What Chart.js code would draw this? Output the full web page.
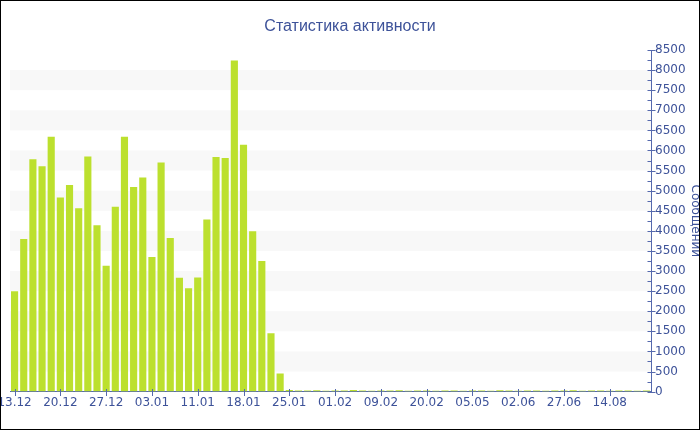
<!DOCTYPE html>
<html>
<head>
<meta charset="utf-8">
<script src="https://cdn.jsdelivr.net/npm/chart.js@4"></script>
<style>
    body { margin: 0; background: #fff; }
    #wrap { width: 700px; height: 430px; box-sizing: border-box; border: 1px solid #000; }
    canvas { display: block; }
</style>
</head>
<body>
<div id="wrap"><canvas id="activityChart" width="698" height="428"></canvas></div>
<script>
const days = [
    '13.12', '14.12', '15.12', '17.12', '18.12', '20.12', '21.12', '22.12', '24.12', '25.12',
    '27.12', '28.12', '29.12', '31.12', '01.01', '03.01', '04.01', '06.01', '07.01', '09.01',
    '11.01', '12.01', '14.01', '15.01', '17.01', '18.01', '20.01', '21.01', '22.01', '24.01',
    '25.01', '26.01', '28.01', '29.01', '31.01', '01.02', '03.02', '05.02', '06.02', '08.02',
    '09.02', '11.02', '13.02', '15.02', '18.02', '20.02', '05.03', '19.03', '02.04', '18.04',
    '05.05', '12.05', '17.05', '21.05', '27.05', '02.06', '07.06', '13.06', '17.06', '22.06',
    '27.06', '05.07', '14.07', '22.07', '03.08', '14.08', '20.08', '29.08', '05.09', '12.09'
];

const messages = [
    2500, 3800, 5780, 5610, 6340, 4830, 5140, 4560, 5850, 4140,
    3130, 4600, 6340, 5090, 5330, 3350, 5700, 3820, 2830, 2570,
    2840, 4280, 5840, 5810, 8240, 6140, 3990, 3250, 1450, 450,
    40, 30, 25, 35, 20, 30, 25, 40, 30, 20,
    25, 30, 35, 20, 25, 30, 20, 25, 30, 20,
    25, 30, 20, 35, 25, 20, 30, 25, 20, 30,
    25, 35, 20, 25, 30, 20, 25, 30, 20, 25
];

const yMax = 8500;
const yStep = 250;
const labelEvery = 5;

const textColor = '#3d5299';
const axisColor = '#5569ad';
const barColor = '#bce02e';
const bandColor = '#f8f8f8';

// light bands between 500-1000, 1500-2000 ...
const bandsPlugin = {
    id: 'bands',
    beforeDatasetsDraw(chart) {
        const { ctx, chartArea, scales } = chart;
        ctx.save();
        ctx.fillStyle = bandColor;
        for (let v = 500; v < yMax; v += 1000) {
            const top = scales.y.getPixelForValue(v + 500);
            const bottom = scales.y.getPixelForValue(v);
            ctx.fillRect(chartArea.left, top, chartArea.right - chartArea.left, bottom - top);
        }
        ctx.restore();
    }
};

// tick marks that cross the axis lines
const crossTicksPlugin = {
    id: 'crossTicks',
    afterDraw(chart) {
        const { ctx, chartArea, scales } = chart;
        ctx.save();
        ctx.strokeStyle = axisColor;
        ctx.lineWidth = 1;
        ctx.beginPath();
        scales.y.ticks.forEach(t => {
            const y = Math.round(scales.y.getPixelForValue(t.value)) + 0.5;
            const major = t.value % 500 === 0;
            const x = Math.round(chartArea.right) + 0.5;
            ctx.moveTo(x - 4, y);
            ctx.lineTo(major ? x + 4 : x, y);
        });
        scales.x.ticks.forEach((t, i) => {
            if (i % labelEvery !== 0) return;
            const x = Math.round(scales.x.getPixelForValue(i)) + 0.5;
            const y = Math.round(chartArea.bottom);
            ctx.moveTo(x, y - 3);
            ctx.lineTo(x, y + 4);
        });
        ctx.stroke();
        ctx.restore();
    }
};

const config = {
    type: 'bar',
    data: {
        labels: days,
        datasets: [{
            label: 'Сообщений',
            data: messages,
            backgroundColor: barColor,
            borderWidth: 0,
            categoryPercentage: 1,
            barPercentage: 0.78
        }]
    },
    options: {
        responsive: false,
        animation: false,
        layout: {
            padding: { left: 9, right: 9, top: 0, bottom: 15 }
        },
        plugins: {
            legend: { display: false },
            tooltip: { enabled: false },
            title: {
                display: true,
                text: 'Статистика активности',
                color: textColor,
                font: { family: 'Liberation Sans', size: 16, weight: 'normal' },
                padding: { top: 15.5, bottom: 14.3 }
            }
        },
        scales: {
            x: {
                grid: { display: false, drawTicks: false },
                border: { display: true, color: axisColor, width: 1 },
                ticks: {
                    color: textColor,
                    font: { family: 'DejaVu Sans', size: 12 },
                    padding: 4,
                    autoSkip: false,
                    maxRotation: 0,
                    minRotation: 0,
                    callback: function (value, index) {
                        return index % labelEvery === 0 ? this.getLabelForValue(value) : '';
                    }
                },
                afterFit(scale) {
                    scale.paddingLeft = 0;
                    scale.paddingRight = 0;
                }
            },
            y: {
                position: 'right',
                min: 0,
                max: yMax,
                grid: { display: false, drawTicks: false },
                border: { display: true, color: axisColor, width: 1 },
                ticks: {
                    stepSize: yStep,
                    autoSkip: false,
                    color: textColor,
                    font: { family: 'DejaVu Sans', size: 12 },
                    padding: 4,
                    callback: value => value % 500 === 0 ? value : ''
                },
                title: {
                    display: true,
                    text: 'Сообщений',
                    color: textColor,
                    font: { family: 'DejaVu Sans', size: 12 },
                    padding: { top: -12, bottom: 0 }
                },
                afterFit(scale) {
                    scale.width = 39;
                }
            }
        }
    },
    plugins: [bandsPlugin, crossTicksPlugin]
};

const ctx = document.getElementById('activityChart').getContext('2d');
const chart = new Chart(ctx, config);
</script>
</body>
</html>
